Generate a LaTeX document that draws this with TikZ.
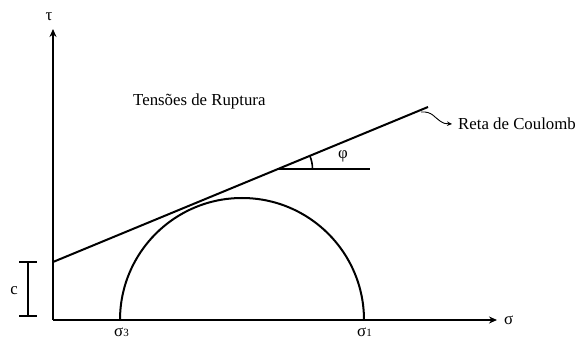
\documentclass[tikz,border=0pt]{standalone}
\usepackage{fontspec}
\setmainfont{Liberation Serif}
\usetikzlibrary{arrows.meta}
\newcommand{\subdig}[1]{{\fontsize{11}{11}\selectfont #1}}
\begin{document}
\begin{tikzpicture}[x=1pt,y=1pt,
  lbl/.style={font=\fontsize{16.8}{18}\selectfont, inner sep=0pt},
  thick line/.style={line width=2pt},
  axis/.style={line width=2pt,-{Stealth[length=8pt,width=7pt]}}]
\useasboundingbox (0,0) rectangle (579,340);
% axes
\coordinate (O) at (53,20);
\coordinate (Ytop) at (53,311);
\coordinate (Xend) at (497,20);
\draw[axis] (O) -- (Ytop);
\draw[axis] (O) -- (Xend);
\node[lbl] (tau) at (49,323) {τ};
\node[lbl,anchor=base west] (sig) at (504,15) {σ};
% Coulomb line
\coordinate (C0) at (53,78);
\coordinate (C1) at (428,233);
\draw[thick line] (C0) -- (C1);
% Mohr circle
\coordinate (S3) at (120,20);
\coordinate (S1) at (364,20);
\draw[thick line] (S1) arc[start angle=0,end angle=180,radius=122];
\node[lbl,anchor=base west] (s3) at (114,3) {σ\subdig{3}};
\node[lbl,anchor=base west] (s1) at (357,3) {σ\subdig{1}};
% phi
\coordinate (P0) at (278.5,171);
\coordinate (P1) at (370,171);
\draw[thick line] (P0) -- (P1);
\draw[line width=1.6pt] ([xshift=34pt]P0) arc[start angle=0,end angle=22.5,radius=34];
\node[lbl] (phi) at (343,184) {φ};
% c bracket
\coordinate (Ct) at (28,78);
\coordinate (Cb) at (28,24);
\draw[line width=1.6pt] (Ct) -- (Cb);
\draw[line width=1.6pt] ([xshift=-9pt]Ct) -- ([xshift=9pt]Ct);
\draw[line width=1.6pt] ([xshift=-9pt]Cb) -- ([xshift=9pt]Cb);
\node[lbl] (c) at (14,49) {c};
% texts
\node[lbl,anchor=base west] (tens) at (133,234) {Tensões de Ruptura};
\node[lbl,anchor=base west] (reta) at (458,210) {Reta de Coulomb};
\coordinate (Q0) at (421,228);
\coordinate (Qt) at (452,216);
\draw[line width=0.9pt,-{Stealth[length=5pt,width=4.5pt]}] (Q0) .. controls (432,229) and (435,222) .. (440,219) .. controls (444,216.5) .. (Qt);
\end{tikzpicture}
\end{document}
